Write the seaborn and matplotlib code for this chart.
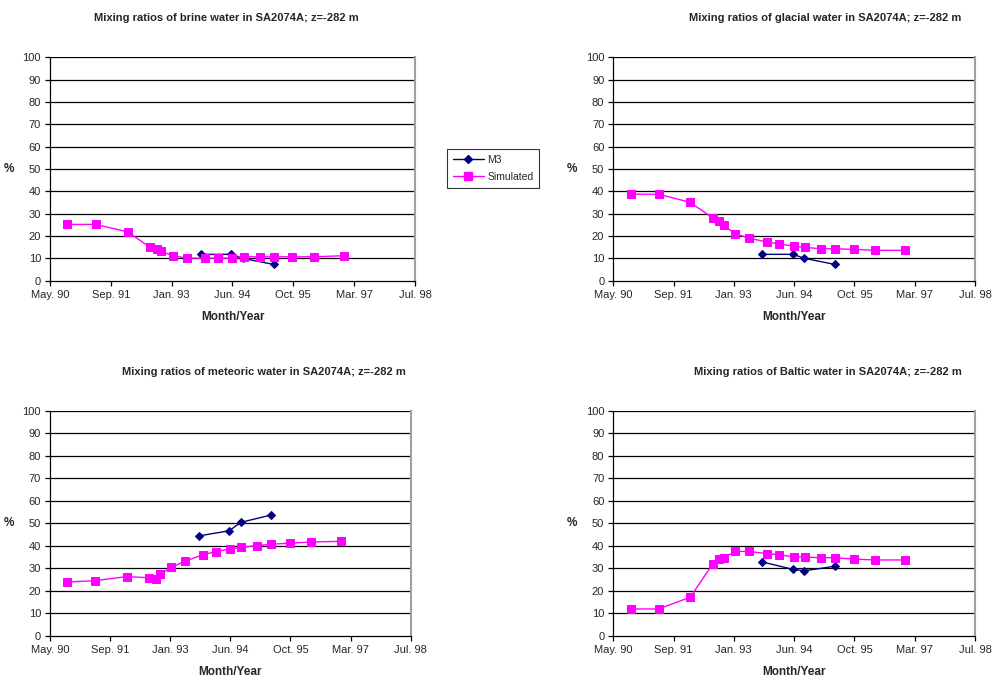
import matplotlib
matplotlib.use("Agg")
import matplotlib.pyplot as plt
import matplotlib.dates as mdates
from matplotlib.lines import Line2D
import seaborn as sns
import pandas as pd

sns.set_theme(style="white")
plt.rcParams['font.family'] = ['Liberation Sans', 'DejaVu Sans']

# ---------------- data ----------------
sim_dates = ["1990-09-28", "1991-05-18", "1992-02-04", "1992-08-08", "1992-10-04",
             "1992-11-09", "1993-02-10", "1993-06-05", "1993-11-03", "1994-02-13",
             "1994-06-14", "1994-09-15", "1995-01-24", "1995-05-23", "1995-10-21",
             "1996-04-19", "1996-12-21"]
m3_dates = ["1993-09-26", "1994-06-07", "1994-09-08", "1995-05-19"]

brine_sim = [25.2, 25.2, 21.9, 14.9, 14.0, 13.1, 11.2, 10.1, 10.1, 10.1, 10.1, 10.7, 10.7, 10.7, 10.7, 10.7, 11.2]
brine_m3 = [11.8, 11.8, 10.0, 7.3]

glacial_sim = [38.7, 38.7, 35.1, 28.1, 26.7, 24.8, 21.0, 19.1, 17.3, 16.4, 15.5, 14.9, 14.3, 14.3, 14.0, 13.6, 13.6]
glacial_m3 = [11.8, 11.8, 10.0, 7.3]

meteoric_sim = [23.9, 24.5, 26.3, 25.8, 25.4, 27.3, 30.4, 33.2, 36.1, 37.4, 38.7, 39.3, 40.1, 40.7, 41.2, 41.7, 42.0]
meteoric_m3 = [44.4, 46.7, 50.4, 53.7]

baltic_sim = [11.9, 11.9, 17.1, 31.8, 34.1, 34.6, 37.5, 37.5, 36.5, 36.1, 35.0, 35.0, 34.7, 34.7, 34.1, 33.7, 33.7]
baltic_m3 = [32.8, 29.5, 28.9, 30.9]

titles = ["Mixing ratios of brine water in SA2074A; z=-282 m",
          "Mixing ratios of glacial water in SA2074A; z=-282 m",
          "Mixing ratios of meteoric water in SA2074A; z=-282 m",
          "Mixing ratios of Baltic water in SA2074A; z=-282 m"]
tick_dates = ["1990-05-08", "1991-09-20", "1993-01-31", "1994-06-15",
              "1995-10-28", "1997-03-11", "1998-07-24"]
series_names = ["M3", "Simulated"]

panels = [(brine_sim, brine_m3), (glacial_sim, glacial_m3),
          (meteoric_sim, meteoric_m3), (baltic_sim, baltic_m3)]

# ---------------- layout ----------------
W, H = 996, 682
fig = plt.figure(figsize=(W / 100, H / 100), dpi=100)
fig.patch.set_facecolor("white")

# axes boxes in pixels: left, top, right, bottom
boxes = [(50, 57.3, 415, 280.7), (613.3, 57.3, 975, 280.7),
         (50, 411, 410.7, 635.7), (613.3, 411, 975, 635.7)]
title_pos = [(226, 18), (825, 18), (264, 372), (828, 372)]

M3_COLOR = "#000080"
SIM_COLOR = "#FF00FF"

sd = pd.to_datetime(sim_dates)
md = pd.to_datetime(m3_dates)
ticks = pd.to_datetime(tick_dates)

for i, ((sim, m3), (l, t, r, b)) in enumerate(zip(panels, boxes)):
    ax = fig.add_axes([l / W, 1 - b / H, (r - l) / W, (b - t) / H])
    ax.set_facecolor("white")
    sns.lineplot(x=md, y=m3, ax=ax, color=M3_COLOR, marker="D", markersize=4.5,
                 markeredgecolor=M3_COLOR, linewidth=1, zorder=3)
    sns.lineplot(x=sd, y=sim, ax=ax, color=SIM_COLOR, marker="s", markersize=6,
                 markeredgecolor=SIM_COLOR, linewidth=1, zorder=4)
    ax.set_xlim(ticks[0], ticks[-1])
    ax.set_ylim(0, 100)
    ax.set_yticks(range(0, 101, 10))
    ax.set_xticks(ticks)
    ax.xaxis.set_major_formatter(mdates.DateFormatter("%b. %y"))
    ax.grid(False)
    for y in range(10, 101, 10):
        ax.axhline(y, color="black", linewidth=0.9, zorder=1)
    for s in ["left", "bottom"]:
        ax.spines[s].set_color("black")
        ax.spines[s].set_linewidth(0.9)
    ax.spines["top"].set_visible(False)
    ax.spines["right"].set_color("#A0A0A0")
    ax.spines["right"].set_linewidth(1.5)
    ax.tick_params(axis="both", which="major", direction="out", length=3.5, width=0.9,
                   color="black", labelsize=8, pad=3, bottom=True, left=True)
    ax.set_xlabel("Month/Year", fontsize=8.5, fontweight="bold", labelpad=8)
    ax.set_ylabel("%", fontsize=8.5, fontweight="bold", rotation=0, labelpad=10, va="center")
    tx, ty = title_pos[i]
    fig.text(tx / W, 1 - ty / H, titles[i], ha="center", va="center",
             fontsize=8, fontweight="bold")

handles = [Line2D([], [], color=M3_COLOR, marker="D", markersize=4.5, linewidth=1),
           Line2D([], [], color=SIM_COLOR, marker="s", markersize=6, linewidth=1)]
leg = fig.legend(handles, series_names, loc="upper left",
                 bbox_to_anchor=(447 / W, 1 - 149 / H), fontsize=7.5,
                 frameon=True, fancybox=False, edgecolor="black", borderaxespad=0,
                 handlelength=3, borderpad=0.55, labelspacing=0.7, handletextpad=0.3)
leg.get_frame().set_linewidth(0.8)

fig.savefig("out.png", dpi=100, facecolor="white")
